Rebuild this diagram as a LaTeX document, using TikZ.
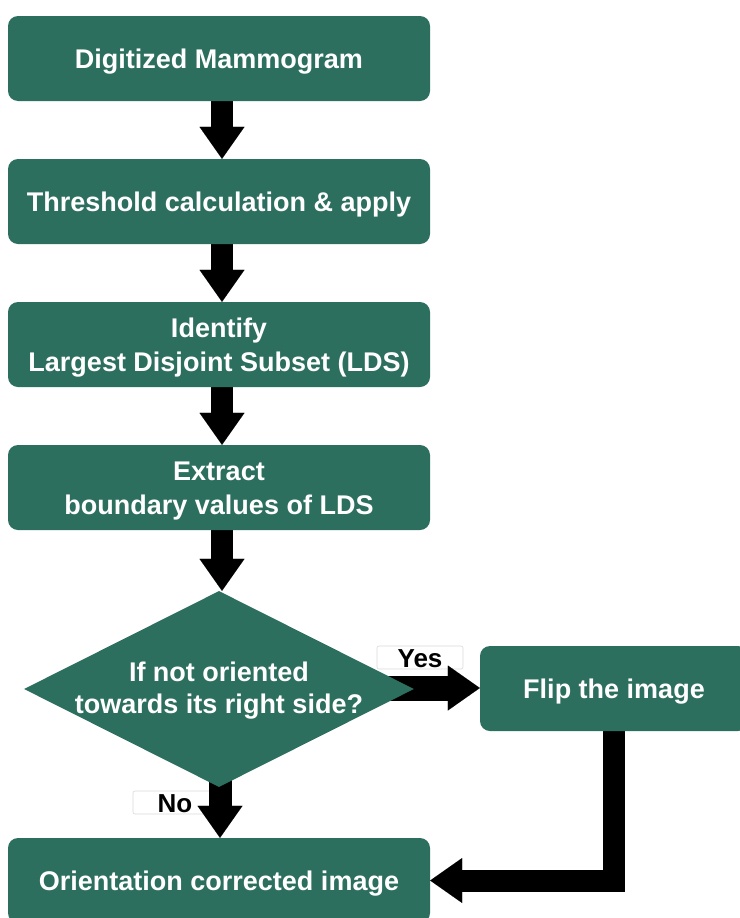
\documentclass[tikz,border=0pt]{standalone}
\usepackage{fontspec}
\setmainfont{Liberation Sans}
\usetikzlibrary{shapes.geometric,arrows.meta,calc}
\definecolor{flowgreen}{RGB}{45,111,94}
\pgfdeclarelayer{labels}
\pgfdeclarelayer{arrows}
\pgfsetlayers{labels,arrows,main}
% tall invisible strut that sets the first line a little lower in its box
\newcommand\boxstrut{\rule{0pt}{26pt}}
\begin{document}
\begin{tikzpicture}[x=1pt,y=-1pt,
  stepbox/.style={rectangle, rounded corners=10pt, fill=flowgreen, text=white,
    minimum width=422pt, minimum height=85pt, inner sep=0pt, align=center,
    font=\fontsize{27}{33.5}\selectfont\bfseries},
  decbox/.style={diamond, fill=flowgreen, minimum width=390pt, minimum height=196pt, inner sep=0pt},
  dectext/.style={text=white, align=center, font=\fontsize{27}{32}\selectfont\bfseries},
  answer/.style={rectangle, rounded corners=2pt, fill=white, draw=black!15, line width=0.6pt,
    minimum height=23pt, inner sep=0pt, text height=19pt, text depth=0pt,
    font=\fontsize{26}{26}\selectfont\bfseries},
  blockarrow/.style={line width=#1, line join=miter,
    -{Triangle[width=45pt,length=32pt,line width=0.01pt]}},
  blockarrow/.default=22pt]
\useasboundingbox (0,0) rectangle (739,918);

% process steps
\node[stepbox] (digit)  at (219,58.5)  {\boxstrut Digitized Mammogram};
\node[stepbox] (thresh) at (219,201.5) {\boxstrut Threshold calculation \& apply};
\node[stepbox] (lds)    at (219,344.5) {\boxstrut Identify\\Largest Disjoint Subset (LDS)};
\node[stepbox] (bound)  at (219,487.5) {\boxstrut Extract\\boundary values of LDS};

% decision
\node[decbox] (dec) at (219,689) {};
\node[dectext] (dectxt) at (219,691) {If not oriented\\towards its right side?};

% branches
\node[stepbox, minimum width=268pt] (flip) at (614,688.5) {\boxstrut Flip the image};
\node[stepbox] (result) at (219,880.5) {\boxstrut Orientation corrected image};

% branch labels
\begin{pgfonlayer}{labels}
\node[answer, minimum width=86pt] (yes) at (420,657.5) {Yes};
\node[answer, minimum width=84pt] (no)  at (175,802.5) {No};
\end{pgfonlayer}

% connectors
\coordinate (ax) at (222,0);
\coordinate (nx) at (220,0);
\begin{pgfonlayer}{arrows}
\draw[blockarrow] (digit.south -| ax)  -- (thresh.north -| ax);
\draw[blockarrow] (thresh.south -| ax) -- (lds.north -| ax);
\draw[blockarrow] (lds.south -| ax)    -- (bound.north -| ax);
\draw[blockarrow] (bound.south -| ax)  -- (dec.north -| ax);
\draw[blockarrow=25pt] (dec.center |- 0,688) -- (flip.west |- 0,688);
\draw[blockarrow=23pt] (dec.center -| nx) -- (result.north -| nx);
\draw[blockarrow] (flip.south) -- (flip.south |- result.east) -- (result.east);
\end{pgfonlayer}
\end{tikzpicture}
\end{document}
